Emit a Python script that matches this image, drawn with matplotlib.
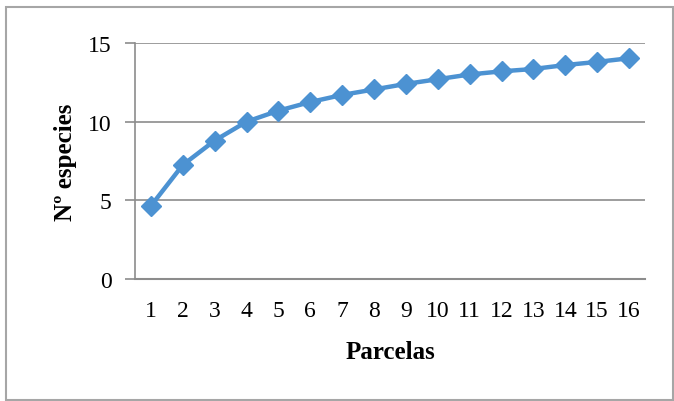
import matplotlib.pyplot as plt
from matplotlib.patches import Rectangle

# Species accumulation by plot
parcelas = [str(i) for i in range(1, 17)]
especies = [4.65, 7.25, 8.8, 10.0, 10.7, 11.25, 11.7, 12.05,
            12.4, 12.7, 13.0, 13.2, 13.35, 13.6, 13.8, 14.03]

line_color = "#4C92D2"
grid_color = "#8C8C8C"

plt.rcParams["font.family"] = ["Liberation Serif", "DejaVu Serif"]

fig = plt.figure(figsize=(6.74, 4.02), dpi=100)
ax = fig.add_axes([0.2003, 0.3035, 0.7567, 0.587])

x = range(len(parcelas))
ax.plot(x, especies, color=line_color, linewidth=3.2,
        marker="D", markersize=10.5, markeredgecolor=line_color,
        markerfacecolor=line_color)

ax.set_xlim(-0.5, len(parcelas) - 0.5)
ax.set_ylim(0, 15)
ax.set_yticks([0, 5, 10, 15])
ax.set_xticks(list(x))
ax.set_xticklabels(parcelas)

ax.grid(True, axis="y", color=grid_color, linewidth=1.2)
ax.set_axisbelow(True)
for side in ["top", "right"]:
    ax.spines[side].set_visible(False)
ax.spines["left"].set_color(grid_color)
ax.spines["left"].set_linewidth(1.2)
ax.spines["bottom"].set_color(grid_color)
ax.spines["bottom"].set_linewidth(1.5)

ax.tick_params(axis="y", length=7, width=1.2, color=grid_color,
               labelsize=17, pad=10)
ax.tick_params(axis="x", length=0, labelsize=17, pad=15)

ax.set_xlabel("Parcelas", fontsize=18, fontweight="bold", labelpad=14)
ax.set_ylabel("Nº especies", fontsize=18, fontweight="bold", labelpad=8)

# outer frame of the chart
fig.patches.append(Rectangle((6 / 674, 1 / 402), 667 / 674, 393 / 402,
                             transform=fig.transFigure, fill=False,
                             edgecolor="#A6A6A6", linewidth=1.5))

plt.savefig("out.png", dpi=100)
